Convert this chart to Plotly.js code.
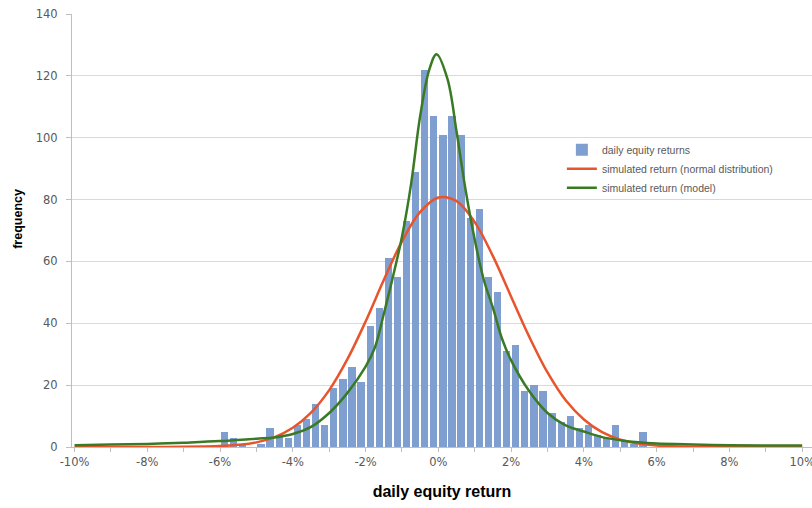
<!DOCTYPE html>
<html>
<head>
<meta charset="utf-8">
<script src="https://cdn.plot.ly/plotly-3.0.1.min.js"></script>
<style>html,body{margin:0;padding:0;background:#fff;}#chart{width:812px;height:508px;}</style>
</head>
<body>
<div id="chart"></div>
<script>
// Histogram bins (centre of each 0.25% bin, in %)
const binCenters = [
 -9.875,-9.625,-9.375,-9.125,-8.875,-8.625,-8.375,-8.125,
 -7.875,-7.625,-7.375,-7.125,-6.875,-6.625,-6.375,-6.125,
 -5.875,-5.625,-5.375,-5.125,-4.875,-4.625,-4.375,-4.125,
 -3.875,-3.625,-3.375,-3.125,-2.875,-2.625,-2.375,-2.125,
 -1.875,-1.625,-1.375,-1.125,-0.875,-0.625,-0.375,-0.125,
 0.125,0.375,0.625,0.875,1.125,1.375,1.625,1.875,
 2.125,2.375,2.625,2.875,3.125,3.375,3.625,3.875,
 4.125,4.375,4.625,4.875,5.125,5.375,5.625,5.875,
 6.125,6.375,6.625,6.875,7.125,7.375,7.625,7.875,
 8.125,8.375,8.625,8.875,9.125,9.375,9.625,9.875
];
const dailyReturns = [
 0,0,0,0,0,0,0,0,
 0,0,0,0,0,0,0,0,
 5,3,1,0,1,6,4,3,
 7,9,14,7,19,22,26,21,
 39,45,61,55,73,89,122,107,
 101,107,101,74,77,55,50,31,
 33,18,20,18,11,8,10,6,
 7,4,3,7,2,1,5,0,
 0,0,0,0,0,0,0,0,
 0,0,0,0,0,0,0,0
];
// Simulated return (normal distribution)
const normalX = [-10,-8,-7,-6,-5.5,-5,-4.5,-4,-3.5,-3,-2.5,-2,-1.5,-1,-0.5,0,0.5,1,1.5,2,2.5,3,3.5,4,4.5,5,5.5,6,7,8,10];
const normalY = [0,0.03,0.05,0.3,0.7,1.5,3.2,6.2,11.1,18.4,28.4,40.6,54,66.5,76,80.7,79.5,72.7,61.7,48.6,35.6,24.1,15.1,8.9,4.8,2.4,1.1,0.5,0.1,0.02,0];
// Simulated return (model)
const modelX = [-10,-9,-8,-7,-6,-5,-4.5,-4,-3.5,-3,-2.5,-2,-1.75,-1.5,-1.25,-1,-0.75,-0.5,-0.25,-0.05,0.25,0.5,0.75,1,1.25,1.5,1.75,2,2.5,3,3.5,4,4.5,5,5.5,6,7,8,9,10];
const modelY = [0.6,0.8,1.0,1.4,1.9,2.7,3.1,4.2,6.5,11,17.5,26,32,43,55,68,85,107,122,127,119,102,83,67,54,45,35,28,18,11,7,5,3.2,2.2,1.5,1.1,0.8,0.6,0.5,0.5];

const xTickVals = [-10,-8,-6,-4,-2,0,2,4,6,8,10];
const xTickText = ['-10%','-8%','-6%','-4%','-2%','0%','2%','4%','6%','8%','10%'];
const yTickVals = [0,20,40,60,80,100,120,140];

const seriesNames = ['daily equity returns','simulated return (normal distribution)','simulated return (model)'];
const xTitle = 'daily equity return';
const yTitle = 'frequency';

const traces = [
  {type:'bar', x:binCenters, y:dailyReturns, width:0.2, name:seriesNames[0],
   marker:{color:'#7f9fd1', line:{width:0}}},
  {type:'scatter', mode:'lines', x:normalX, y:normalY, name:seriesNames[1],
   line:{color:'#e8542c', width:2.5, shape:'spline', smoothing:1}},
  {type:'scatter', mode:'lines', x:modelX, y:modelY, name:seriesNames[2],
   line:{color:'#3b7a24', width:2.5, shape:'spline', smoothing:1}}
];

const tickFont = {family:'DejaVu Sans, sans-serif', size:11.5, color:'#595959'};
const titleFontFamily = 'Liberation Sans, Arial, sans-serif';
const layout = {
  width:812, height:508,
  margin:{l:72, r:0, t:14, b:61},
  paper_bgcolor:'#ffffff', plot_bgcolor:'#ffffff',
  showlegend:true,
  legend:{x:0.662, y:0.72, xanchor:'left', yanchor:'top', bgcolor:'rgba(255,255,255,0)',
          font:{family:'Liberation Sans, Arial, sans-serif', size:10.5, color:'#595959'}},
  bargap:0,
  xaxis:{range:[-10.07,10.27], tickmode:'array', tickvals:xTickVals, ticktext:xTickText,
         ticks:'outside', ticklen:4, tickcolor:'#bfbfbf', showgrid:false, zeroline:false,
         showline:true, linecolor:'#bfbfbf', linewidth:1, tickfont:tickFont,
         ticklabeloverflow:'allow',
         minor:{dtick:1, tick0:0, ticks:'outside', ticklen:4, tickcolor:'#bfbfbf', showgrid:false},
         title:{text:xTitle, standoff:18,
                font:{family:titleFontFamily, size:16, color:'#000000', weight:'bold'}}},
  yaxis:{range:[0,140], tickmode:'array', tickvals:yTickVals, ticks:'outside', ticklen:5,
         tickcolor:'#bfbfbf', showgrid:true, gridcolor:'#d9d9d9', gridwidth:1, zeroline:false,
         showline:true, linecolor:'#bfbfbf', linewidth:1, tickfont:tickFont, ticklabelstandoff:6},
  annotations:[
    {text:yTitle, xref:'paper', yref:'paper', x:-0.073, y:0.527, xanchor:'center', yanchor:'middle',
     textangle:-90, showarrow:false,
     font:{family:titleFontFamily, size:12.5, color:'#000000', weight:'bold'}}
  ]
};

Plotly.newPlot('chart', traces, layout, {displayModeBar:false, staticPlot:true});
</script>
</body>
</html>
